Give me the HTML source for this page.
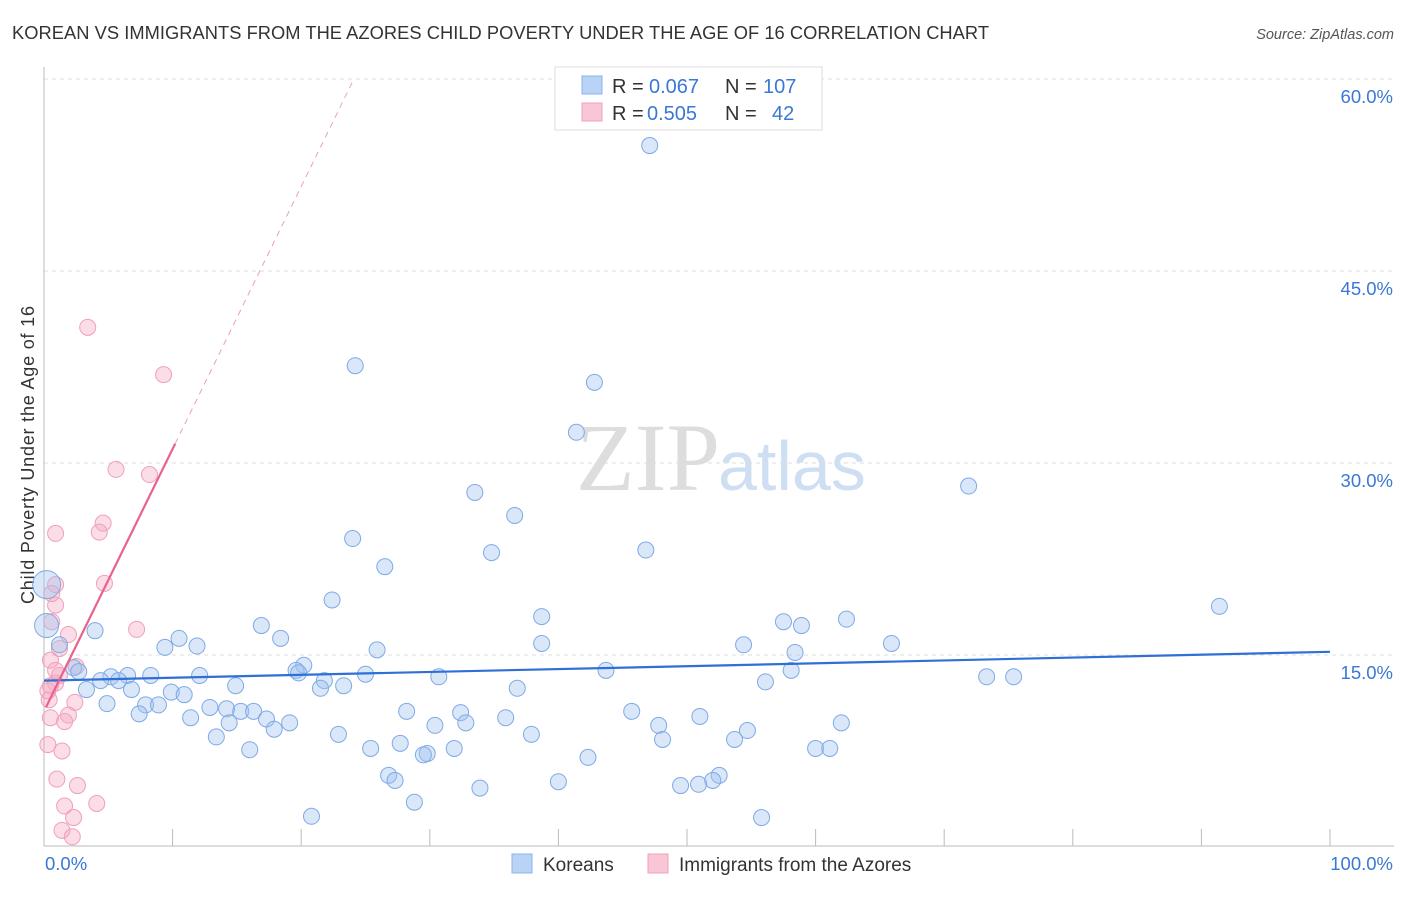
<!DOCTYPE html>
<html><head><meta charset="utf-8"><style>
body{margin:0;background:#fff;font-family:"Liberation Sans",sans-serif}
svg text{font-family:"Liberation Sans",sans-serif}
</style></head><body>
<svg id="chart" width="1406" height="892">
<text x="12" y="39" font-size="18.3" fill="#333" textLength="977">KOREAN VS IMMIGRANTS FROM THE AZORES CHILD POVERTY UNDER THE AGE OF 16 CORRELATION CHART</text>
<text x="1394" y="39" font-size="14.5" fill="#555" text-anchor="end" font-style="italic">Source: ZipAtlas.com</text>
<text x="720" y="490" font-size="96" fill="#ddd" text-anchor="end" style="font-family:'Liberation Serif',serif">ZIP</text>
<text x="718" y="490" font-size="70" fill="#cfdff3">atlas</text>
<text transform="translate(34,455) rotate(-90)" font-size="18" fill="#333" text-anchor="middle" textLength="298">Child Poverty Under the Age of 16</text>
<g id="grid"></g><g id="axes"></g><g id="marks"></g>
<g>
<rect x="555" y="67" width="267" height="63" fill="#fff" stroke="#ddd"/>
<rect x="582" y="76" width="20" height="18" fill="#b8d3f5" stroke="#8ab4e8"/>
<rect x="582" y="103" width="20" height="18" fill="#f9c6d5" stroke="#f0a0b8"/>
<text x="612" y="93" font-size="20" fill="#333">R =</text>
<text x="649" y="93" font-size="20" fill="#3a78d4">0.067</text>
<text x="725" y="93" font-size="20" fill="#333">N =</text>
<text x="763" y="93" font-size="20" fill="#3a78d4">107</text>
<text x="612" y="120" font-size="20" fill="#333">R =</text>
<text x="647" y="120" font-size="20" fill="#3a78d4">0.505</text>
<text x="725" y="120" font-size="20" fill="#333">N =</text>
<text x="772" y="120" font-size="20" fill="#3a78d4">42</text>
</g>
<g>
<rect x="512" y="854" width="20" height="19" fill="#b8d3f5" stroke="#8ab4e8"/>
<text x="543" y="871" font-size="19" fill="#333">Koreans</text>
<rect x="648" y="854" width="20" height="19" fill="#f9c6d5" stroke="#f0a0b8"/>
<text x="679" y="871" font-size="19" fill="#333">Immigrants from the Azores</text>
</g>
</svg>
<script>
const yTicks=[15,30,45,60];
const yTickLabels=["15.0%","30.0%","45.0%","60.0%"];
const xTickLabels=["0.0%","100.0%"];
const blueX=[47.1,24.2,42.8,41.4,71.9,33.5,36.6,24.0,34.8,46.8,26.5,91.4,22.4,38.7,62.4,57.5,58.9,16.9,3.97,10.5,18.4,65.9,38.7,54.4,9.4,11.9,25.9,58.4,1.2,0.2,0.2,20.2,19.6,19.8,25.0,58.1,43.7,2.3,2.7,5.2,6.5,8.3,12.1,21.8,73.3,75.4,30.7,4.4,5.8,3.3,6.8,14.9,21.5,23.3,36.8,56.1,9.9,10.9,4.9,7.9,8.9,7.4,12.9,14.2,15.3,16.3,11.4,17.3,19.1,14.4,17.9,28.2,32.4,45.7,51.0,32.8,35.9,30.4,47.8,62.0,54.7,13.4,22.9,37.9,48.1,53.7,27.7,16.0,25.4,31.9,29.8,29.5,60.0,61.1,42.3,26.8,27.3,40.0,52.5,52.0,49.5,50.9,33.9,28.8,20.8,55.8];
const blueY=[54.8,37.6,36.3,32.4,28.2,27.7,25.9,24.1,23.0,23.2,21.9,18.8,19.3,18.0,17.8,17.6,17.3,17.3,16.9,16.3,16.3,15.9,15.9,15.8,15.6,15.7,15.4,15.2,15.8,20.5,17.3,14.2,13.8,13.6,13.5,13.8,13.8,14.0,13.7,13.3,13.4,13.4,13.4,13.0,13.3,13.3,13.3,13.0,13.0,12.3,12.3,12.6,12.4,12.6,12.4,12.9,12.1,11.9,11.2,11.1,11.1,10.4,10.9,10.8,10.6,10.6,10.1,10.0,9.7,9.7,9.2,10.6,10.5,10.6,10.2,9.7,10.1,9.5,9.5,9.7,9.1,8.6,8.8,8.8,8.4,8.4,8.1,7.6,7.7,7.7,7.3,7.2,7.7,7.7,7.0,5.6,5.2,5.1,5.6,5.2,4.8,4.9,4.6,3.5,2.4,2.3];
const blueR=blueX.map((x,i)=>i==29?14:(i==30?12:8));
const pinkX=[3.4,9.3,5.6,8.2,0.9,4.6,4.3,4.7,0.9,0.9,0.6,7.2,1.9,1.2,0.5,2.5,0.9,0.9,0.5,0.4,2.4,1.9,1.6,0.5,0.3,1.4,1.0,2.6,4.1,1.6,2.3,1.4,2.2,0.6,1.2,0.3];
const pinkY=[40.6,36.9,29.5,29.1,24.5,25.3,24.6,20.6,20.5,18.9,19.8,17.0,16.6,15.5,14.6,14.1,13.8,12.8,12.6,11.5,11.3,10.3,9.8,10.1,8.0,7.5,5.3,4.8,3.4,3.2,2.3,1.3,0.8,17.6,13.4,12.2];
const blueTrend=[13.0,15.25];
const pinkTrend=[10.6,2.05];
const X=v=>44+v*12.86, Y=v=>847-v*12.8;
const NS="http://www.w3.org/2000/svg";
function mk(tag,attrs,parent){const e=document.createElementNS(NS,tag);for(const k in attrs)e.setAttribute(k,attrs[k]);document.getElementById(parent).appendChild(e);return e;}
yTicks.forEach((t,i)=>{
 const g=mk('line',{x1:44,x2:1394,y1:Y(t),y2:Y(t),stroke:'#ddd','stroke-dasharray':'4,4'},'grid');
 
 
 const tx=mk('text',{x:1393,y:Y(t)+24,'font-size':18.5,fill:'#3a78d4','text-anchor':'end'},'axes');tx.textContent=yTickLabels[i];
 
 
});
const ax=mk('line',{x1:44,x2:44,y1:67,y2:846,stroke:'#bbb'},'axes');


const bx=mk('line',{x1:44,x2:1394,y1:846,y2:846,stroke:'#bbb'},'axes');


for(let i=1;i<=10;i++){const t=mk('line',{x1:X(i*10),x2:X(i*10),y1:829,y2:846,stroke:'#bbb'},'axes');
 
 }
[[0,'start',45],[100,'end',1393]].forEach((d,i)=>{const t=mk('text',{x:d[2],y:870,'font-size':18.5,fill:'#3a78d4','text-anchor':d[1]},'axes');t.textContent=xTickLabels[i];
 
 });
pinkX.forEach((x,i)=>{const c=mk('circle',{cx:X(x),cy:Y(pinkY[i]),r:8,fill:'rgba(246,170,195,0.4)',stroke:'#f0a0b8','stroke-width':1},'marks');
 
 });
blueX.forEach((x,i)=>{const c=mk('circle',{cx:X(x),cy:Y(blueY[i]),r:blueR[i],fill:'rgba(160,196,240,0.4)',stroke:'#7eaae6','stroke-width':1},'marks');
 
 });
const bl=mk('line',{x1:X(0),y1:Y(blueTrend[0]),x2:X(100),y2:Y(blueTrend[1]),stroke:'#2f6fd6','stroke-width':2.2},'marks');


const pl=mk('line',{x1:X(0.15),y1:Y(pinkTrend[0]+pinkTrend[1]*0.15),x2:X(10.2),y2:Y(pinkTrend[0]+pinkTrend[1]*10.2),stroke:'#e8628c','stroke-width':2.2},'marks');


const xe=(60-pinkTrend[0])/pinkTrend[1];
const pd=mk('line',{x1:X(10.2),y1:Y(pinkTrend[0]+pinkTrend[1]*10.2),x2:X(xe),y2:Y(60),stroke:'#eaa0b8','stroke-width':1,'stroke-dasharray':'6,5'},'marks');


</script>
</body></html>
